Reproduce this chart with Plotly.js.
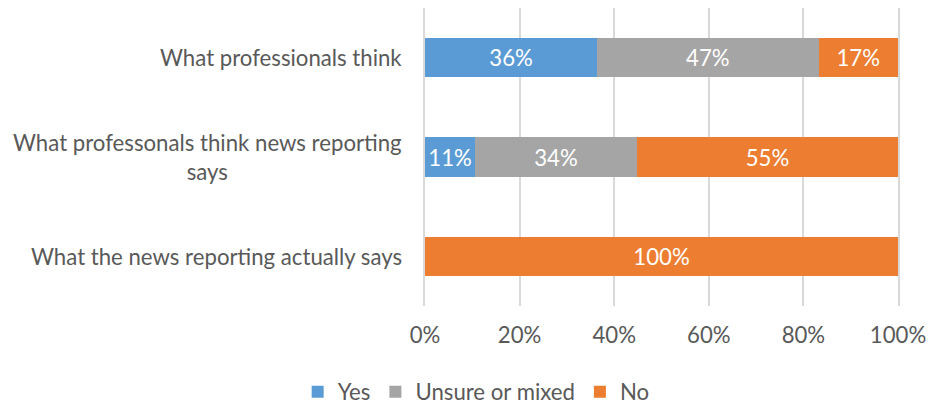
<!DOCTYPE html>
<html><head><meta charset="utf-8">
<script src="https://cdn.plot.ly/plotly-3.0.1.min.js"></script>
<style>html,body{margin:0;padding:0;background:#fff}#chart{width:930px;height:406px}</style>
</head><body><div id="chart"></div>
<script>
const categories = ["What professionals think", "What professonals think news reporting<br>says", "What the news reporting actually says"];
const seriesNames = ["Yes", "Unsure or mixed", "No"];
const yesValues = [36.4, 10.6, 0];
const unsureValues = [46.8, 34.2, 0];
const noValues = [16.8, 55.2, 100];
const xTickVals = [0, 20, 40, 60, 80, 100];
const xTickText = ["0%", "20%", "40%", "60%", "80%", "100%"];
const colors = ["#5B9BD5", "#A5A5A5", "#ED7D31"];
const FONT = "Lato, 'Open Sans', sans-serif";
const FS = 22.2;
const allVals = [yesValues, unsureValues, noValues];
const traces = allVals.map((vals, i) => ({
  type: 'bar', orientation: 'h', name: seriesNames[i],
  x: vals, y: categories,
  marker: {color: colors[i]},
  text: vals.map(v => v > 0 ? Math.round(v) + '%' : ''),
  texttemplate: '%{text}',
  textposition: 'inside', insidetextanchor: 'middle',
  textfont: {color: '#ffffff', size: FS, family: FONT},
  constraintext: 'none',
  hoverinfo: 'skip'
}));
const annotations = categories.map(c => ({
  xref: 'paper', yref: 'y', x: 0, y: c, text: c,
  xanchor: 'right', yanchor: 'middle', align: 'center', xshift: -21,
  showarrow: false, font: {family: FONT, size: FS, color: '#595959'}
}));
const layout = {
  width: 930, height: 406,
  margin: {l: 425, r: 32, t: 8, b: 100},
  barmode: 'stack', bargap: 0.605,
  paper_bgcolor: '#ffffff', plot_bgcolor: '#ffffff',
  font: {family: FONT, size: FS, color: '#595959'},
  showlegend: true,
  legend: {orientation: 'h', xref: 'container', yref: 'container', x: 0.512, y: 0.035,
    xanchor: 'center', yanchor: 'middle', font: {family: FONT, size: FS, color: '#595959'},
    traceorder: 'normal', itemwidth: 30},
  xaxis: {range: [0, 100], tickvals: xTickVals, ticktext: xTickText, showgrid: true,
    gridcolor: '#D9D9D9', gridwidth: 2, zeroline: false, showline: false,
    ticks: '', ticklabelstandoff: 14, fixedrange: true},
  yaxis: {type: 'category', autorange: 'reversed', showticklabels: false, showgrid: false,
    zeroline: false, showline: true, mirror: true, linecolor: '#D9D9D9', linewidth: 2,
    ticks: '', fixedrange: true},
  annotations: annotations
};
Plotly.newPlot('chart', traces, layout, {displayModeBar: false, staticPlot: true});
</script></body></html>
